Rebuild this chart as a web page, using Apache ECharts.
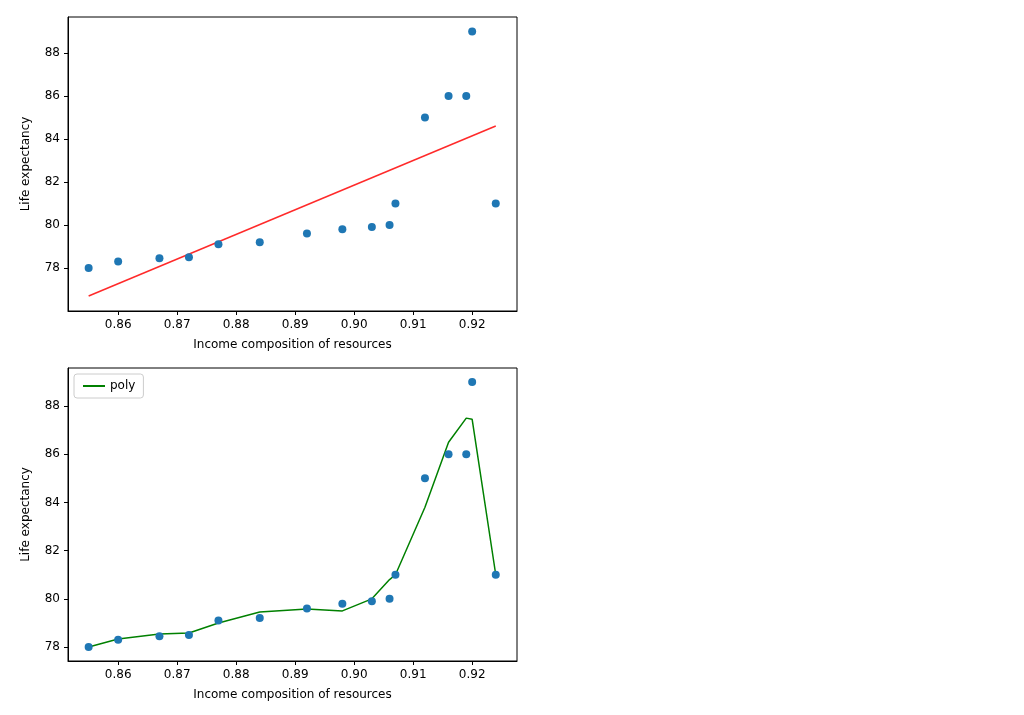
<!DOCTYPE html>
<html>
<head>
<meta charset="utf-8">
<script src="https://cdn.jsdelivr.net/npm/echarts@6/dist/echarts.min.js"></script>
<style>html,body{margin:0;background:#fff}#chart{width:1024px;height:715px}</style>
</head>
<body>
<div id="chart"></div>
<script>
// scatter data (income composition, life expectancy)
const income = [0.855, 0.860, 0.867, 0.872, 0.877, 0.884, 0.892, 0.898, 0.903, 0.906, 0.907, 0.912, 0.916, 0.919, 0.920, 0.924];
const lifeExp = [78.0, 78.3, 78.45, 78.5, 79.1, 79.2, 79.6, 79.8, 79.9, 80.0, 81.0, 85.0, 86.0, 86.0, 89.0, 81.0];
// linear fit endpoints
const linX = [0.855, 0.924];
const linY = [76.7, 84.6];
// polynomial fit, evaluated at each income value
const polyY = [78.0, 78.33, 78.54, 78.58, 79.0, 79.45, 79.58, 79.5, 80.0, 80.8, 81.0, 83.8, 86.5, 87.5, 87.45, 81.0];
const xTicks = [0.86, 0.87, 0.88, 0.89, 0.90, 0.91, 0.92];
const yTicks = [78, 80, 82, 84, 86, 88];

const font = 'DejaVu Sans';
const points = income.map((x, i) => [x, lifeExp[i]]);

function xAxis(gi) {
    return {
        gridIndex: gi, type: 'value', min: 0.8515, max: 0.9276,
        name: 'Income composition of resources', nameLocation: 'middle', nameGap: 28,
        nameTextStyle: {fontFamily: font, fontSize: 12, color: '#000'},
        axisLine: {lineStyle: {color: '#000'}},
        axisTick: {customValues: xTicks, length: 4, lineStyle: {color: '#000'}},
        axisLabel: {customValues: xTicks, fontFamily: font, fontSize: 12, color: '#000',
            formatter: v => v.toFixed(2)},
        splitLine: {show: false}
    };
}
function yAxis(gi, min, max) {
    return {
        gridIndex: gi, type: 'value', min: min, max: max,
        name: 'Life expectancy', nameLocation: 'middle', nameGap: 36,
        nameTextStyle: {fontFamily: font, fontSize: 12, color: '#000'},
        axisLine: {show: true, lineStyle: {color: '#000'}},
        axisTick: {show: true, customValues: yTicks, length: 4, lineStyle: {color: '#000'}},
        axisLabel: {customValues: yTicks, fontFamily: font, fontSize: 12, color: '#000'},
        splitLine: {show: false}
    };
}

const chart = echarts.init(document.getElementById('chart'));
chart.setOption({
    animation: false,
    grid: [
        {left: 68, top: 17, width: 449, height: 294},
        {left: 68, top: 368, width: 449, height: 293}
    ],
    xAxis: [xAxis(0), xAxis(1)],
    yAxis: [yAxis(0, 76.0, 89.67), yAxis(1, 77.42, 89.58)],
    graphic: [
        {type: 'rect', shape: {x: 68, y: 17, width: 449, height: 294}, style: {fill: 'none', stroke: '#000', lineWidth: 1}, silent: true},
        {type: 'rect', shape: {x: 68, y: 368, width: 449, height: 293}, style: {fill: 'none', stroke: '#000', lineWidth: 1}, silent: true}
    ],
    legend: {
        left: 74, top: 374, data: ['poly'], orient: 'vertical',
        itemWidth: 22, itemHeight: 2, padding: [6, 8],
        borderColor: '#ccc', borderWidth: 1, borderRadius: 3,
        textStyle: {fontFamily: font, fontSize: 12, color: '#000'}
    },
    series: [
        {type: 'scatter', xAxisIndex: 0, yAxisIndex: 0, data: points, symbolSize: 8, z: 4, itemStyle: {color: '#1f77b4', opacity: 1}},
        {type: 'line', xAxisIndex: 0, yAxisIndex: 0, data: linX.map((x, i) => [x, linY[i]]), showSymbol: false, lineStyle: {color: '#ff2a2a', width: 1.5}},
        {type: 'scatter', xAxisIndex: 1, yAxisIndex: 1, data: points, symbolSize: 8, z: 4, itemStyle: {color: '#1f77b4', opacity: 1}},
        {name: 'poly', type: 'line', xAxisIndex: 1, yAxisIndex: 1, data: income.map((x, i) => [x, polyY[i]]), showSymbol: false, symbol: 'none', itemStyle: {color: 'green'}, lineStyle: {color: 'green', width: 1.5}, z: 3}
    ]
});
</script>
</body>
</html>
